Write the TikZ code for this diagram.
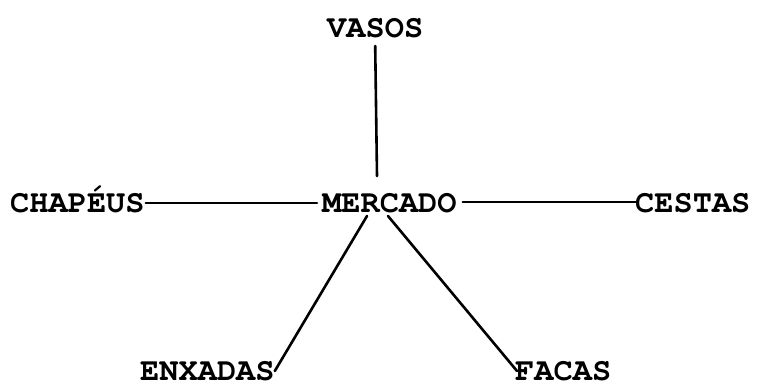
\documentclass[tikz,border=0pt]{standalone}
\usepackage[T1]{fontenc}
\usepackage{courier}
\begin{document}
\begin{tikzpicture}[x=1pt,y=1pt,
  lbl/.style={font=\ttfamily\bfseries\fontsize{32}{32}\selectfont, inner sep=0pt, anchor=base west},
  conn/.style={line width=2.6pt, line cap=round}]
\useasboundingbox (0,0) rectangle (757,388);
\node[lbl] (vasos) at (327,350) {VASOS};
\node[lbl] (chap) at (10,175) {CHAP\'EUS};
\node[lbl] (merc) at (322,175) {MERCADO};
\node[lbl] (cest) at (635,175) {CESTAS};
\node[lbl] (enx) at (140,8) {ENXADAS};
\node[lbl] (fac) at (515,8) {FACAS};
\coordinate (mtop) at ([xshift=55pt,yshift=37pt]merc.base west);
\coordinate (mbl) at ([xshift=45pt,yshift=-3pt]merc.base west);
\coordinate (mbr) at ([xshift=66pt,yshift=-3pt]merc.base west);
\draw[conn] ([yshift=-8pt]vasos.base) -- (mtop);
\draw[conn] ([xshift=1pt,yshift=10pt]chap.base east) -- ([xshift=-5pt,yshift=10pt]merc.base west);
\draw[conn] ([xshift=6pt,yshift=11pt]merc.base east) -- ([xshift=2pt,yshift=11pt]cest.base west);
\draw[conn] ([xshift=0pt,yshift=9pt]enx.base east) -- (mbl);
\draw[conn] ([xshift=2pt,yshift=9pt]fac.base west) -- (mbr);
\end{tikzpicture}
\end{document}
